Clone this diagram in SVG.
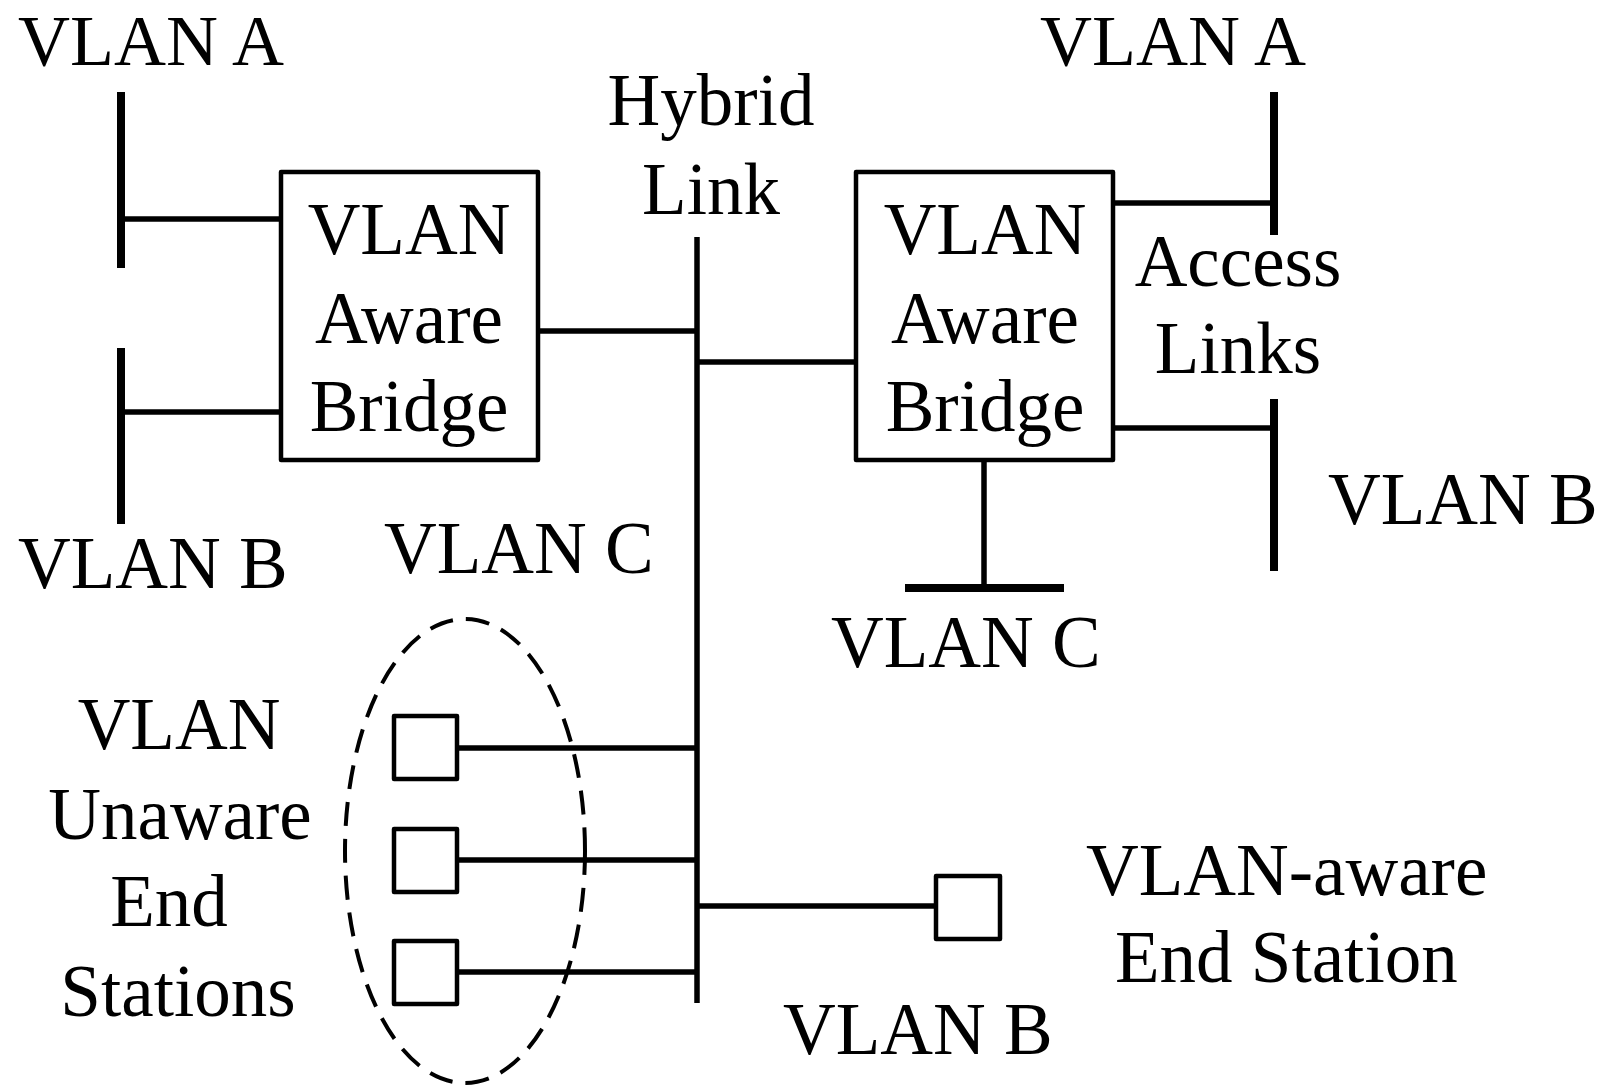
<svg xmlns="http://www.w3.org/2000/svg" width="1604" height="1089" viewBox="0 0 1604 1089">
<style>
text{font-family:"Liberation Serif","Times New Roman",serif;font-size:73px;fill:#000}
.c{text-anchor:middle}
.top{font-size:72px}
.bus{stroke:#000;stroke-width:8;fill:none}
.ln{stroke:#000;stroke-width:5.5;fill:none}
.box{stroke:#000;stroke-width:4.5;fill:#fff;stroke-linejoin:round}
.dash{stroke:#000;stroke-width:4;fill:none;stroke-dasharray:24 13}
</style>
<rect width="1604" height="1089" fill="#fff"/>
<g id="connectors">
<line class="ln" x1="121" y1="219" x2="281" y2="219"/>
<line class="ln" x1="121" y1="412" x2="281" y2="412"/>
<line class="ln" x1="538" y1="331" x2="697" y2="331"/>
<line class="ln" x1="697" y1="362" x2="856" y2="362"/>
<line class="ln" x1="1113" y1="203" x2="1274" y2="203"/>
<line class="ln" x1="1113" y1="428" x2="1274" y2="428"/>
<line class="ln" x1="984" y1="460" x2="984" y2="588"/>
<line class="ln" x1="457" y1="748" x2="697" y2="748"/>
<line class="ln" x1="457" y1="860" x2="697" y2="860"/>
<line class="ln" x1="457" y1="972" x2="697" y2="972"/>
<line class="ln" x1="697" y1="906" x2="936" y2="906"/>
</g>
<g id="bus-left-a"><line class="bus" x1="121" y1="92" x2="121" y2="268"/><text class="top" x="18" y="65">VLAN A</text></g>
<g id="bus-left-b"><line class="bus" x1="121" y1="348" x2="121" y2="524"/><text x="18" y="588">VLAN B</text></g>
<g id="hybrid-link"><line class="ln" x1="697" y1="237" x2="697" y2="1003"/><text class="c" x="711" y="125">Hybrid</text><text class="c" x="711" y="214">Link</text></g>
<g id="bridge-left"><rect class="box" x="281" y="172" width="257" height="288"/><text class="c" x="409" y="254">VLAN</text><text class="c" x="409" y="343">Aware</text><text class="c" x="409" y="431">Bridge</text></g>
<g id="bridge-right"><rect class="box" x="856" y="172" width="257" height="288"/><text class="c" x="985" y="254">VLAN</text><text class="c" x="985" y="343">Aware</text><text class="c" x="985" y="431">Bridge</text></g>
<g id="bus-right-a"><line class="bus" x1="1274" y1="92" x2="1274" y2="235"/><text class="top" x="1040" y="65">VLAN A</text></g>
<g id="access-links"><text class="c" x="1238" y="286">Access</text><text class="c" x="1238" y="373">Links</text></g>
<g id="bus-right-b"><line class="bus" x1="1274" y1="399" x2="1274" y2="571"/><text x="1328" y="524">VLAN B</text></g>
<g id="bus-right-c"><line class="bus" x1="905" y1="588" x2="1064" y2="588"/><text x="831" y="667">VLAN C</text></g>
<g id="label-vlan-c"><text x="384" y="573">VLAN C</text></g>
<g id="unaware-group"><ellipse class="dash" cx="465" cy="851" rx="120" ry="232"/>
<text class="c" x="179" y="749">VLAN</text><text class="c" x="180" y="839">Unaware</text><text class="c" x="169" y="926">End</text><text class="c" x="178" y="1016">Stations</text></g>
<g id="station-1"><rect class="box" x="394" y="716" width="63" height="63"/></g>
<g id="station-2"><rect class="box" x="394" y="829" width="63" height="63"/></g>
<g id="station-3"><rect class="box" x="394" y="941" width="63" height="63"/></g>
<g id="aware-station"><rect class="box" x="936" y="876" width="64" height="63"/><text x="1086" y="895">VLAN-aware</text><text x="1115" y="982">End Station</text></g>
<g id="label-vlan-b-bottom"><text x="783" y="1054">VLAN B</text></g>
</svg>
